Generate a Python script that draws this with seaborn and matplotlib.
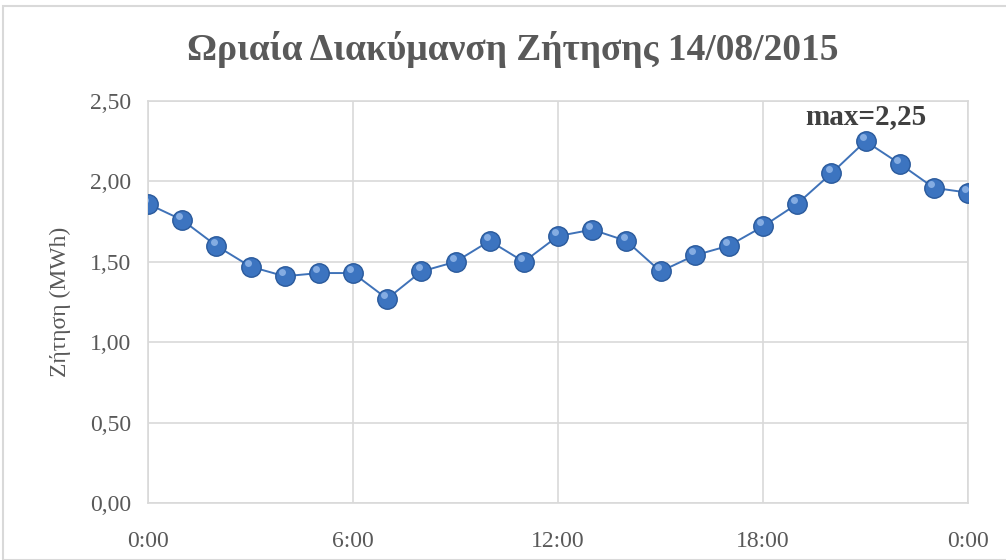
import matplotlib
matplotlib.use("Agg")
import matplotlib.pyplot as plt
import seaborn as sns
import pandas as pd
from matplotlib.patches import Rectangle
from matplotlib.ticker import FuncFormatter

hours = list(range(25))
demand = [1.86, 1.76, 1.60, 1.47, 1.41, 1.43, 1.43, 1.27, 1.44, 1.50, 1.63, 1.50,
          1.66, 1.70, 1.63, 1.44, 1.54, 1.60, 1.72, 1.86, 2.05, 2.25, 2.11, 1.96, 1.93]
x_ticks = [0, 6, 12, 18, 24]
x_tick_labels = ["0:00", "6:00", "12:00", "18:00", "0:00"]
title = "Ωριαία Διακύμανση Ζήτησης 14/08/2015"
ylabel = "Ζήτηση (MWh)"

df = pd.DataFrame({"hour": hours, "demand": demand})

sns.set_theme(style="white")
plt.rcParams['font.family'] = ['Liberation Serif', 'DejaVu Serif']

fig = plt.figure(figsize=(10.06, 5.60), dpi=100)
ax = fig.add_axes([148/1006, 1 - 503/560, (968-148)/1006, (503-101)/560])

# chart border
fig.patches.append(Rectangle((3/1006, 0), 1 - 3/1006 + 0.01, 1 - 6/560, transform=fig.transFigure,
                             fill=False, edgecolor="#D9D9D9", linewidth=1.5, zorder=0))

sns.lineplot(data=df, x="hour", y="demand", ax=ax, color="#3F72B8", linewidth=1.4,
             marker="o", markersize=14, markerfacecolor="#3C74C0",
             markeredgecolor="#2A5A9C", markeredgewidth=1.0, zorder=3)
# sphere highlight
ax.plot(df["hour"] - 0.08, df["demand"] + 0.025, linestyle="none", marker="o",
        markersize=5, markerfacecolor="#8DB3E6", markeredgewidth=0, alpha=0.9, zorder=4)

ax.set_xlim(0, 24)
ax.set_ylim(0, 2.5)
ax.set_xticks(x_ticks)
ax.set_xticklabels(x_tick_labels)
ax.set_yticks([0, 0.5, 1.0, 1.5, 2.0, 2.5])
ax.yaxis.set_major_formatter(FuncFormatter(lambda v, p: f"{v:.2f}".replace(".", ",")))
ax.grid(True, color="#D9D9D9", linewidth=1.2)
for s in ax.spines.values():
    s.set_visible(True)
    s.set_color("#D9D9D9")
    s.set_linewidth(1.2)
ax.tick_params(axis="both", length=0, labelsize=17, colors="#595959")
ax.tick_params(axis="x", pad=20)
ax.tick_params(axis="y", pad=12)
ax.set_xlabel("")
ax.set_ylabel(ylabel, fontsize=17, color="#595959", labelpad=14)

imax = demand.index(max(demand))
ax.annotate(f"max={max(demand):.2f}".replace(".", ","), xy=(hours[imax], demand[imax]),
            xytext=(0, 8), textcoords="offset points", ha="center", va="bottom",
            fontsize=21, fontweight="bold", color="#404040")

fig.text(0.51, 1 - 50/560, title, ha="center", va="center", fontsize=27,
         fontweight="bold", color="#595959")

fig.savefig("out.png", dpi=100)
